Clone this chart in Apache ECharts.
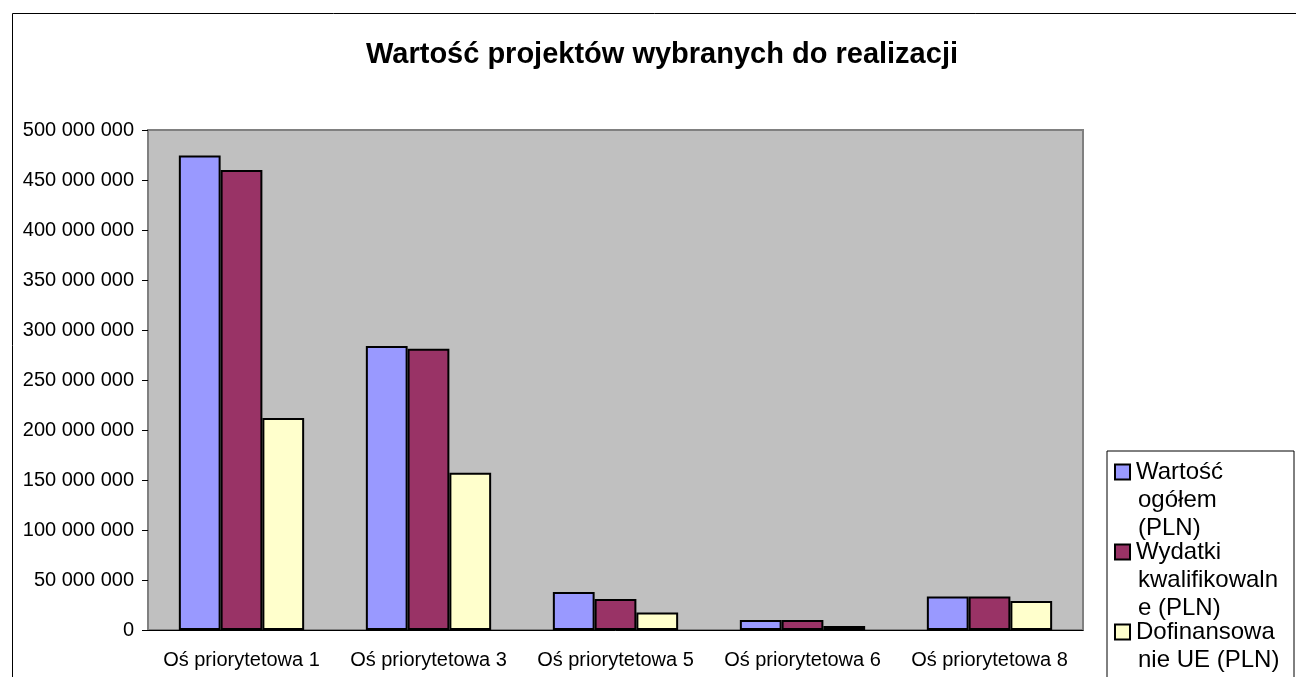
<!DOCTYPE html>
<html>
<head>
    <meta charset="utf-8">
    <title>Wartość projektów wybranych do realizacji</title>
    <script src="https://cdn.jsdelivr.net/npm/echarts@6/dist/echarts.min.js"></script>
    <style>
        html, body { margin: 0; padding: 0; background: #ffffff; }
        #chart { width: 1296px; height: 677px; }
    </style>
</head>
<body>
<div id="chart"></div>
<script>
    // dane
    var categories = ['Oś priorytetowa 1', 'Oś priorytetowa 3', 'Oś priorytetowa 5', 'Oś priorytetowa 6', 'Oś priorytetowa 8'];
    var seriesNames = ['Wartość ogółem (PLN)', 'Wydatki kwalifikowalne (PLN)', 'Dofinansowanie UE (PLN)'];
    var wartoscOgolem = [474500000, 284000000, 38000000, 10000000, 33500000];
    var wydatkiKwalifikowalne = [460000000, 281300000, 31000000, 10000000, 33500000];
    var dofinansowanieUE = [212000000, 157300000, 17500000, 4000000, 29000000];
    // podział tekstu legendy na linie, tak jak w oryginale
    var legendLines = [
        ['Wartość', 'ogółem', '(PLN)'],
        ['Wydatki', 'kwalifikowaln', 'e (PLN)'],
        ['Dofinansowa', 'nie UE (PLN)']
    ];
    var colors = ['#9999FF', '#993366', '#FFFFCC'];

    var chart = echarts.init(document.getElementById('chart'));

    function fmtNumber(v) {
        return String(v).replace(/\B(?=(\d{3})+(?!\d))/g, ' ');
    }

    var rich = {
        g: { width: 7 },
        i: { width: 22 },
        t: { width: 150, fontSize: 24, lineHeight: 28, color: '#000', fontFamily: 'Liberation Sans, Arial, sans-serif' }
    };
    colors.forEach(function (c, k) {
        rich['b' + k] = { width: 13, height: 13, backgroundColor: c, borderColor: '#000', borderWidth: 2 };
    });

    var series = [wartoscOgolem, wydatkiKwalifikowalne, dofinansowanieUE].map(function (d, k) {
        return {
            name: seriesNames[k],
            type: 'bar',
            data: d,
            barGap: '0%',
            barCategoryGap: '33%',
            itemStyle: { color: colors[k], borderColor: '#000', borderWidth: 2 }
        };
    });

    var option = {
        animation: false,
        textStyle: { fontFamily: 'Liberation Sans, Arial, sans-serif' },
        title: {
            text: 'Wartość projektów wybranych do realizacji',
            left: 657,
            textAlign: 'center',
            top: 35,
            textStyle: { fontSize: 29, fontWeight: 'bold', color: '#000', fontFamily: 'Liberation Sans, Arial, sans-serif' }
        },
        graphic: [{
            type: 'rect',
            shape: { x: 12.5, y: 13.5, width: 1400, height: 800 },
            style: { fill: 'none', stroke: '#000', lineWidth: 1 },
            silent: true,
            z: -10
        }],
        legend: {
            orient: 'vertical',
            left: 1107,
            top: 451,
            height: 400,
            padding: [9, 6, 20, 3],
            itemWidth: 0,
            itemHeight: 0,
            itemGap: 0,
            borderColor: '#000',
            borderWidth: 1,
            backgroundColor: '#fff',
            selectedMode: false,
            data: seriesNames,
            textStyle: { rich: rich },
            formatter: function (name) {
                var k = seriesNames.indexOf(name);
                return legendLines[k].map(function (line, j) {
                    return (j === 0 ? '{b' + k + '|}{g|}' : '{i|}') + '{t|' + line + '}';
                }).join('\n');
            }
        },
        grid: {
            left: 148,
            top: 130,
            right: 213,
            bottom: 47,
            show: true,
            backgroundColor: '#C0C0C0',
            borderColor: '#808080',
            borderWidth: 2
        },
        xAxis: {
            type: 'category',
            data: categories,
            axisLine: { lineStyle: { color: '#000', width: 1 } },
            axisTick: { length: 6, lineStyle: { color: '#000' } },
            axisLabel: { interval: 0, margin: 20, fontSize: 20, color: '#000' }
        },
        yAxis: {
            type: 'value',
            min: 0,
            max: 500000000,
            interval: 50000000,
            axisLine: { show: true, lineStyle: { color: '#808080', width: 2 } },
            axisTick: { show: true, length: 6, lineStyle: { color: '#000' } },
            splitLine: { show: false },
            axisLabel: { margin: 14, fontSize: 20, color: '#000', formatter: fmtNumber }
        },
        series: series
    };
    chart.setOption(option);
</script>
</body>
</html>
